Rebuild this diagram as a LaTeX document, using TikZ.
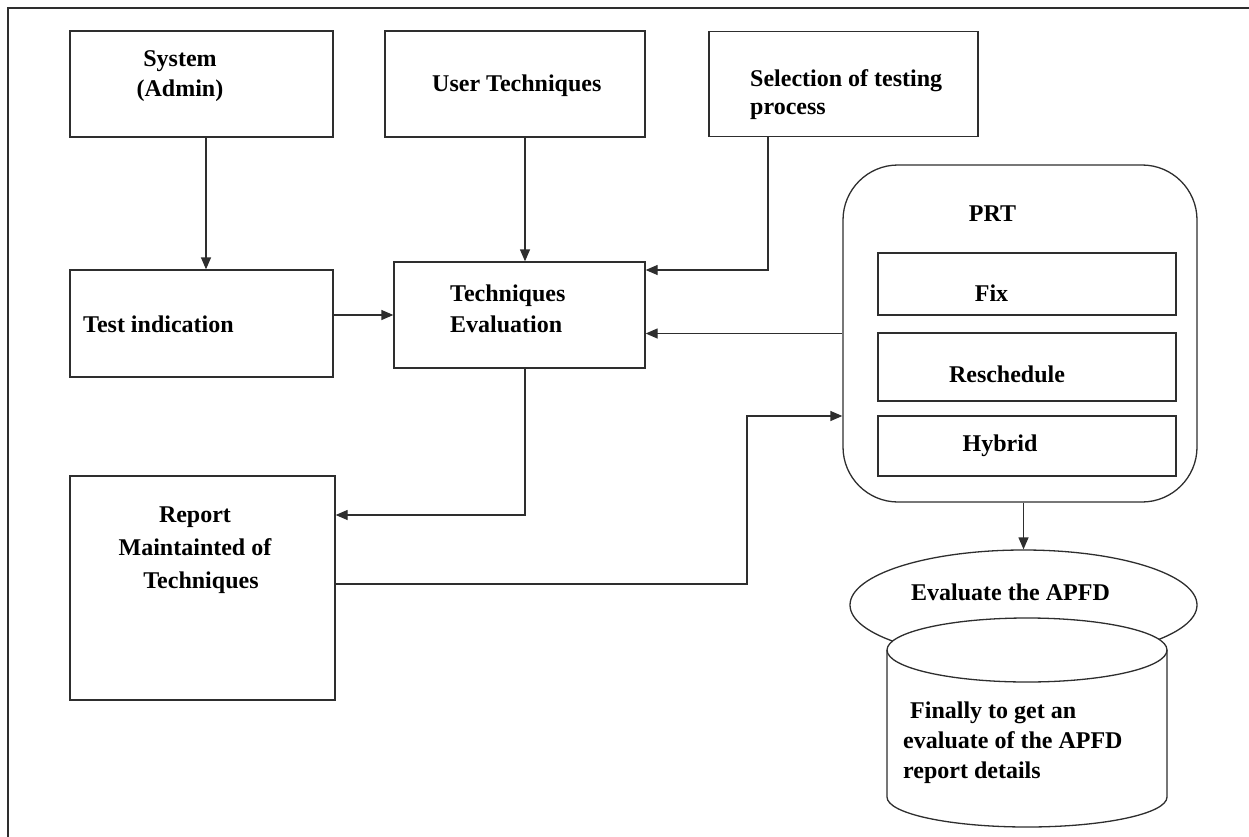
\documentclass[tikz,border=0pt]{standalone}
\usepackage{fontspec}
\setmainfont{Liberation Serif}
\usetikzlibrary{shapes.geometric,arrows.meta}
\definecolor{ln}{HTML}{2E2E2E}
\begin{document}
\begin{tikzpicture}[x=1pt,y=-1pt,
  box/.style={draw=ln,line width=1.3pt,rectangle,inner sep=0pt},
  lbl/.style={font=\fontsize{24}{30}\selectfont\bfseries,inner sep=0pt,text=black},
  arr/.style={draw=ln,line width=1.3pt,-{Triangle[length=12pt,width=10pt]}},
  con/.style={draw=ln,line width=1.3pt}]
\useasboundingbox (0,0) rectangle (1249,837);
% outer frame (top and left edges visible)
\draw[ln,line width=1.6pt] (8,837) -- (8,8) -- (1249,8);

% boxes
\node[box,minimum width=263pt,minimum height=106pt] (sys) at (201.5,84) {};
\node[box,minimum width=260pt,minimum height=106pt] (ut) at (515,84) {};
\node[box,minimum width=269pt,minimum height=105pt] (sel) at (843.5,84) {};
\node[box,minimum width=263pt,minimum height=107pt] (ti) at (201.5,323.5) {};
\node[box,minimum width=251pt,minimum height=106pt] (te) at (519.5,315) {};
\node[box,minimum width=265pt,minimum height=224pt] (rep) at (202.5,588) {};
\node[box,rounded corners=55pt,minimum width=354pt,minimum height=337pt] (prt) at (1020,333.5) {};
\node[box,minimum width=298pt,minimum height=62pt] (fix) at (1027,284) {};
\node[box,minimum width=298pt,minimum height=68pt] (res) at (1027,367) {};
\node[box,minimum width=298pt,minimum height=60pt] (hyb) at (1027,446) {};
\node[draw=ln,line width=1.3pt,ellipse,inner sep=0pt,minimum width=347pt,minimum height=110pt] (ell) at (1023.5,605) {};

% cylinder
\filldraw[ln,fill=white,line width=1.3pt] (887,650) -- (887,797)
  arc[start angle=180,end angle=0,x radius=140,y radius=30] -- (1167,650)
  arc[start angle=0,end angle=-180,x radius=140,y radius=32] -- cycle;
\draw[ln,line width=1.3pt] (887,650) arc[start angle=180,end angle=0,x radius=140,y radius=32];

% texts
\node[lbl,align=center] (tsys) at (180,76.5) {System\\(Admin)};
\node[lbl,anchor=west] (tut) at (432,86) {User Techniques};
\node[lbl,anchor=west,align=left,font=\fontsize{24}{28}\selectfont\bfseries] (tsel) at (750,95) {Selection of testing\\process};
\node[lbl,anchor=west] (tti) at (83,324) {Test indication};
\node[lbl,anchor=west,align=left,font=\fontsize{24}{31}\selectfont\bfseries] (tte) at (450,308.5) {Techniques\\Evaluation};
\node[lbl,align=center,font=\fontsize{24}{33}\selectfont\bfseries] (trep) at (195,550) {Report\\Maintainted of\\\hspace{12pt}Techniques};
\node[lbl] (tprt) at (992.5,214) {PRT};
\node[lbl] (tfix) at (991.5,293) {Fix};
\node[lbl] (tres) at (1007,374) {Reschedule};
\node[lbl] (thyb) at (1000,446) {Hybrid};
\node[lbl] (tell) at (1010.5,592) {Evaluate the APFD};
\node[lbl,anchor=west,align=left] (tcyl) at (903,743) {\hspace{7pt}Finally to get an\\evaluate of the APFD\\report details};

% helper coordinates
\coordinate (ux) at (525,0);
\coordinate (sx) at (768,0);
\coordinate (sy) at (0,270);
\coordinate (ry) at (0,515);
\coordinate (oy) at (0,584);
\coordinate (rx) at (747,0);
\coordinate (hy) at (0,416);
\coordinate (ax) at (206,0);

% connectors
\draw[arr] (sys.south -| ax) -- (ti.north -| ax);
\draw[arr] (ut.south -| ux) -- (te.north -| ux);
\draw[arr] (sel.south -| sx) |- (te.east |- sy);
\draw[arr] (ti.east |- te.west) -- (te.west);
\draw[arr] (prt.west) -- (prt.west -| te.east);
\draw[arr] (te.south -| ux) |- (rep.east |- ry);
\draw[arr] (rep.east |- oy) -| (rx |- hy) -- (prt.west |- hy);
\draw[arr] (prt.south -| ell.north) -- (ell.north);
\end{tikzpicture}
\end{document}
